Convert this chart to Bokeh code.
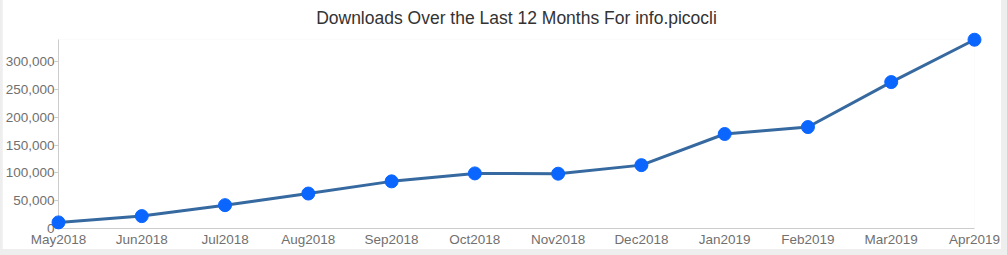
from bokeh.plotting import figure
from bokeh.models import Range1d, FixedTicker, NumeralTickFormatter, ColumnDataSource, Column
from bokeh.embed import file_html
from bokeh.resources import INLINE

months = ["May2018", "Jun2018", "Jul2018", "Aug2018", "Sep2018", "Oct2018",
          "Nov2018", "Dec2018", "Jan2019", "Feb2019", "Mar2019", "Apr2019"]
downloads = [11000, 22300, 42000, 62900, 84800, 99100,
             98600, 114000, 170000, 182500, 263400, 339600]
y_ticks = [0, 50000, 100000, 150000, 200000, 250000, 300000]
y_axis_max = 340000

xs = list(range(len(months)))
src = ColumnDataSource(dict(x=xs, y=downloads, m=months))

FONT = "Liberation Sans"

p = figure(width=999, height=256, output_backend="svg", toolbar_location=None,
           x_range=Range1d(0, len(months) - 1),
           y_range=Range1d(0, y_axis_max),
           min_border_left=56, min_border_right=27, min_border_top=30, min_border_bottom=20,
           title="Downloads Over the Last 12 Months For info.picocli",
           margin=(-6, 5, 5, 2))
p.outline_line_color = None
p.grid.grid_line_color = None
p.background_fill_color = "white"
p.border_fill_color = "white"

p.title.align = "center"
p.title.text_font = FONT
p.title.text_font_size = "17.5px"
p.title.text_font_style = "normal"
p.title.text_color = "#333333"
p.title.text_line_height = 1.0
p.title.standoff = 23

p.line("x", "y", source=src, line_color="#36699f", line_width=3, level="overlay")
p.scatter("x", "y", source=src, size=13, fill_color="#0a66ff", line_color="#0a66ff",
          level="overlay")

xa = p.xaxis[0]
xa.ticker = FixedTicker(ticks=xs)
xa.major_label_overrides = {i: m for i, m in enumerate(months)}
xa.axis_line_color = "#cccccc"
xa.major_tick_line_color = None
xa.major_tick_out = 0
xa.major_tick_in = 0
xa.minor_tick_line_color = None
xa.major_label_text_font = FONT
xa.major_label_text_font_size = "13.5px"
xa.major_label_text_color = "#707070"
xa.major_label_standoff = 3

ya = p.yaxis[0]
ya.ticker = FixedTicker(ticks=y_ticks)
ya.formatter = NumeralTickFormatter(format="0,0")
ya.axis_line_color = "#cccccc"
ya.major_tick_line_color = "#cccccc"
ya.major_tick_out = 4
ya.major_tick_in = 0
ya.minor_tick_line_color = None
ya.major_label_text_font = FONT
ya.major_label_text_font_size = "13.5px"
ya.major_label_text_color = "#707070"
ya.major_label_standoff = 0

page = Column(p, width=1007, height=255,
              styles={"background-color": "#eeeeee"})

open("out.html", "w").write(file_html(page, INLINE))
